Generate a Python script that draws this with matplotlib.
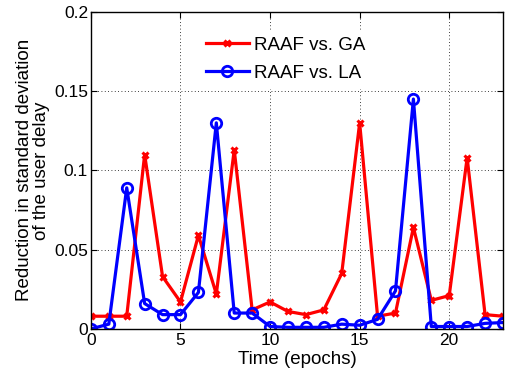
import matplotlib
matplotlib.use("Agg")
import matplotlib.pyplot as plt

epochs = list(range(24))
raaf_vs_ga = [0.008, 0.008, 0.008, 0.110, 0.033, 0.017, 0.059, 0.022, 0.113, 0.012,
              0.017, 0.011, 0.009, 0.012, 0.035, 0.130, 0.008, 0.010, 0.064, 0.018,
              0.021, 0.108, 0.009, 0.008]
raaf_vs_la = [0.000, 0.003, 0.089, 0.016, 0.009, 0.009, 0.023, 0.130, 0.010, 0.010,
              0.0015, 0.001, 0.001, 0.001, 0.003, 0.0023, 0.006, 0.024, 0.145, 0.0015,
              0.0015, 0.0015, 0.0035, 0.004]
xticks = [0, 5, 10, 15, 20]
yticks = [0, 0.05, 0.1, 0.15, 0.2]
yticklabels = ["0", "0.05", "0.1", "0.15", "0.2"]

plt.rcParams['font.family'] = ['Liberation Sans', 'DejaVu Sans']
fig = plt.figure(figsize=(5.05, 3.82), dpi=100)
ax = fig.add_axes([0.180, 0.139, 0.816, 0.830])

ax.plot(epochs, raaf_vs_ga, color='red', lw=2.3, marker='x', ms=5, mew=2.2,
        label='RAAF vs. GA')
ax.plot(epochs, raaf_vs_la, color='blue', lw=2.3, marker='o', ms=7.5, mew=2.0,
        mfc='none', label='RAAF vs. LA')

ax.set_xlim(0, 23)
ax.set_ylim(0, 0.2)
ax.set_xticks(xticks)
ax.set_yticks(yticks)
ax.set_yticklabels(yticklabels)
ax.tick_params(direction='in', labelsize=12.5, length=4, top=True, right=True)
ax.tick_params(axis='y', pad=2)
ax.tick_params(axis='x', pad=3)
ax.grid(True, color='black', linestyle=(0, (1, 3)), linewidth=0.6)
for s in ax.spines.values():
    s.set_linewidth(1.0)
ax.set_xlabel('Time (epochs)', fontsize=13.5, labelpad=2)
ax.set_ylabel('Reduction in standard deviation\nof the user delay', fontsize=13.5,
              labelpad=3, linespacing=1.0)
leg = ax.legend(loc='upper left', bbox_to_anchor=(0.265, 0.94), frameon=True,
                fontsize=13.5, handlelength=2.3, handletextpad=0.25,
                labelspacing=0.6, borderpad=0.3, borderaxespad=0)
leg.get_frame().set_edgecolor('white')
leg.get_frame().set_facecolor('white')
leg.get_frame().set_alpha(1)
fig.savefig('out.png', dpi=100)
